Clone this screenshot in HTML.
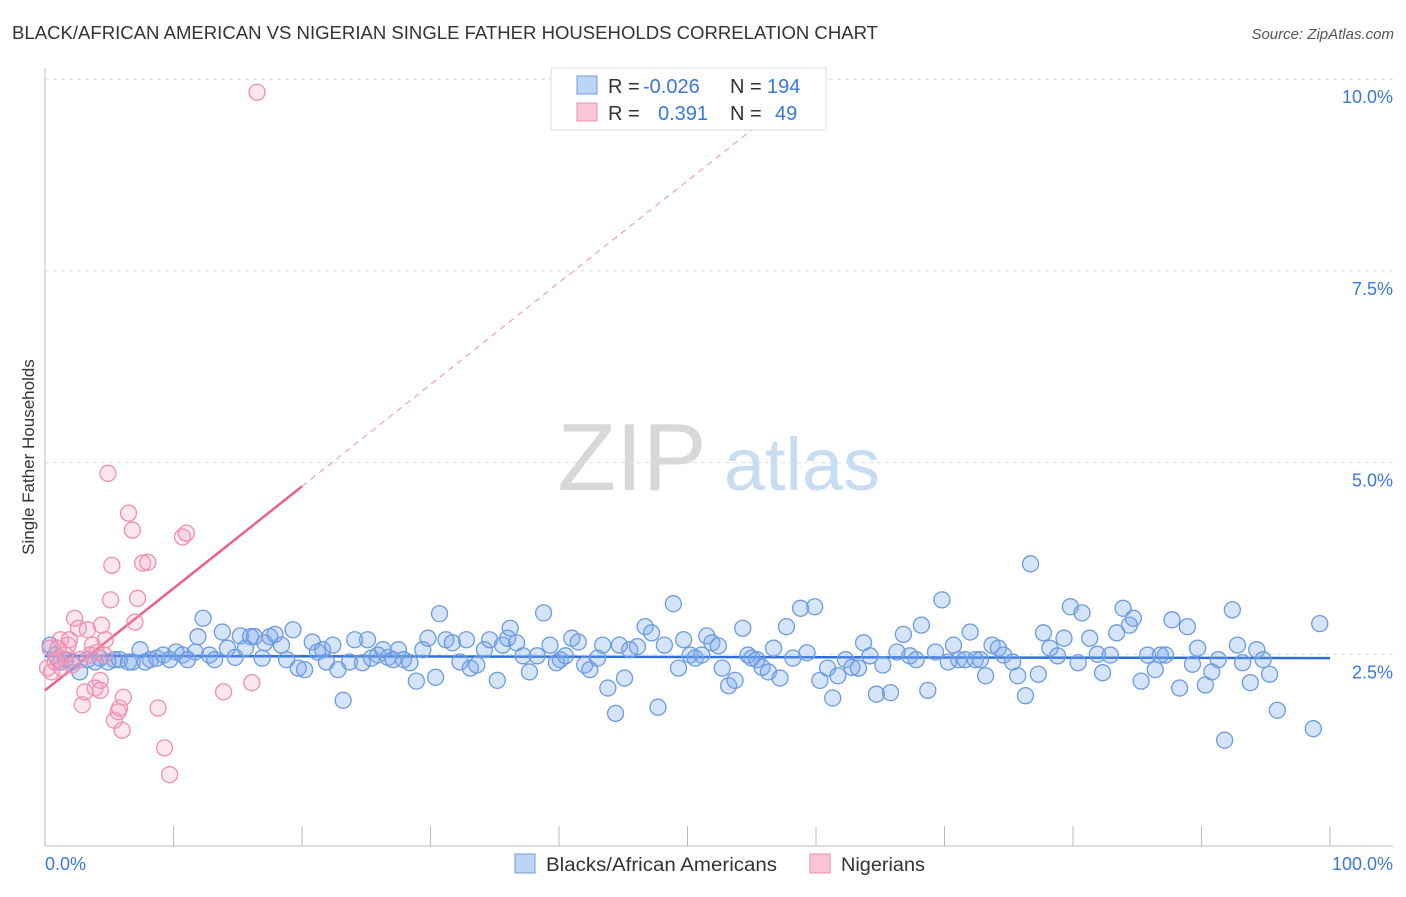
<!DOCTYPE html>
<html><head><meta charset="utf-8"><style>
body{margin:0;background:#fff;font-family:"Liberation Sans",sans-serif;}
svg text{font-family:"Liberation Sans",sans-serif;}
</style></head><body>
<svg id="chart" width="1406" height="892" xmlns="http://www.w3.org/2000/svg">
<text x="12" y="39" font-size="18" fill="#333" textLength="866" lengthAdjust="spacingAndGlyphs">BLACK/AFRICAN AMERICAN VS NIGERIAN SINGLE FATHER HOUSEHOLDS CORRELATION CHART</text>
<text x="1394" y="39" font-size="15" fill="#555" text-anchor="end" font-style="italic">Source: ZipAtlas.com</text>
<text transform="translate(34,457) rotate(-90)" font-size="17" fill="#333" text-anchor="middle">Single Father Households</text>
<g>
<text x="632" y="490" font-size="96" fill="#d8d8d8" font-family="Liberation Serif" text-anchor="middle">ZIP</text>
<text x="802" y="490" font-size="74" fill="#c8dcf2" text-anchor="middle">atlas</text>
</g>
<g id="grid"></g><g id="axes"></g><g id="trend"></g><g id="pts"></g>
<g>
<rect x="551" y="68" width="275" height="62" fill="#fff" stroke="#ddd"/>
<rect x="577" y="76" width="20" height="18" fill="#bcd4f5" stroke="#6c9be0"/>
<rect x="577" y="103" width="20" height="18" fill="#f9c6d6" stroke="#ef8fb0"/>
<text x="608" y="93" font-size="20" fill="#333">R = </text><text x="643" y="93" font-size="20" fill="#3a78d8">-0.026</text>
<text x="730" y="93" font-size="20" fill="#333">N = </text><text x="767" y="93" font-size="20" fill="#3a78d8">194</text>
<text x="608" y="120" font-size="20" fill="#333">R = </text><text x="658" y="120" font-size="20" fill="#3a78d8">0.391</text>
<text x="730" y="120" font-size="20" fill="#333">N = </text><text x="775" y="120" font-size="20" fill="#3a78d8">49</text>
</g>
<g>
<rect x="515" y="854" width="20" height="19" fill="#bcd4f5" stroke="#6c9be0"/>
<text x="546" y="871" font-size="19" fill="#333" textLength="231" lengthAdjust="spacingAndGlyphs">Blacks/African Americans</text>
<rect x="810" y="854" width="20" height="19" fill="#f9c6d6" stroke="#ef8fb0"/>
<text x="841" y="871" font-size="19" fill="#333" textLength="84" lengthAdjust="spacingAndGlyphs">Nigerians</text>
</g>
</svg>
<script>
const yTicks=[2.5,5,7.5,10];
const yTickLabels=["2.5%","5.0%","7.5%","10.0%"];
const xTicks=[0,10,20,30,40,50,60,70,80,90,100];
const xEndLabels=["0.0%","100.0%"];
const blueX=[0.4,0.8,1.2,1.6,2.1,2.7,3.3,3.9,4.3,4.9,5.4,5.8,6.5,6.8,7.4,7.8,8.2,8.7,9.2,9.7,10.2,10.7,11.1,11.7,11.9,12.3,12.8,13.2,13.8,14.2,14.8,15.2,15.6,16.0,16.3,16.9,17.1,17.5,17.9,18.4,18.8,19.3,19.7,20.2,20.8,21.2,21.6,21.9,22.4,22.8,23.2,23.7,24.1,24.7,25.1,25.4,25.9,26.3,26.7,27.1,27.5,27.9,28.4,28.9,29.4,29.8,30.4,30.7,31.2,31.7,32.3,32.8,33.1,33.6,34.2,34.6,35.2,35.6,36.0,36.2,36.7,37.2,37.7,38.3,38.8,39.3,39.8,40.1,40.5,41.0,41.5,42.0,42.4,43.0,43.4,43.8,44.4,44.7,45.1,45.5,46.1,46.7,47.2,47.7,48.2,48.9,49.3,49.7,50.2,50.6,51.1,51.5,51.9,52.4,52.7,53.2,53.7,54.3,54.7,55.0,55.4,55.8,56.3,56.7,57.2,57.7,58.2,58.8,59.3,59.9,60.3,60.9,61.3,61.7,62.3,62.8,63.3,63.7,64.2,64.7,65.2,65.8,66.3,66.8,67.3,67.8,68.2,68.7,69.3,69.8,70.3,70.7,71.1,71.6,72.0,72.4,72.8,73.2,73.7,74.2,74.6,75.3,75.7,76.3,76.7,77.3,77.7,78.2,78.8,79.3,79.8,80.4,80.7,81.3,81.9,82.3,82.9,83.4,83.9,84.4,84.7,85.3,85.8,86.4,86.8,87.2,87.7,88.3,88.9,89.3,89.7,90.3,90.8,91.3,91.8,92.4,92.8,93.2,93.8,94.3,94.8,95.3,95.9,98.7,99.2];
const blueY=[2.62,2.49,2.40,2.43,2.40,2.27,2.43,2.40,2.45,2.40,2.43,2.43,2.40,2.40,2.56,2.40,2.43,2.45,2.49,2.43,2.53,2.49,2.43,2.53,2.73,2.97,2.49,2.43,2.79,2.58,2.46,2.74,2.58,2.73,2.73,2.45,2.65,2.73,2.76,2.62,2.43,2.82,2.32,2.30,2.66,2.53,2.56,2.40,2.62,2.30,1.90,2.40,2.69,2.39,2.69,2.45,2.49,2.56,2.46,2.43,2.56,2.43,2.39,2.15,2.56,2.71,2.20,3.03,2.69,2.65,2.40,2.69,2.32,2.36,2.56,2.69,2.16,2.62,2.71,2.84,2.65,2.48,2.27,2.48,3.04,2.62,2.39,2.43,2.48,2.71,2.66,2.36,2.30,2.45,2.62,2.06,1.73,2.62,2.19,2.56,2.60,2.86,2.78,1.81,2.62,3.16,2.32,2.69,2.49,2.45,2.49,2.74,2.65,2.61,2.32,2.09,2.16,2.84,2.49,2.45,2.43,2.33,2.27,2.58,2.19,2.86,2.45,3.10,2.52,3.12,2.16,2.32,1.93,2.22,2.43,2.33,2.32,2.65,2.48,1.98,2.36,2.00,2.53,2.76,2.48,2.43,2.88,2.03,2.53,3.21,2.40,2.62,2.43,2.43,2.79,2.43,2.43,2.22,2.62,2.58,2.49,2.40,2.22,1.96,3.68,2.24,2.78,2.58,2.48,2.71,3.12,2.39,3.04,2.71,2.50,2.26,2.49,2.78,3.10,2.88,2.97,2.15,2.49,2.30,2.49,2.49,2.95,2.06,2.86,2.37,2.58,2.10,2.27,2.43,1.38,3.08,2.62,2.39,2.13,2.56,2.43,2.24,1.77,1.53,2.90];
const pinkX=[0.2,0.4,0.5,0.8,1.0,1.2,1.3,1.6,1.8,1.9,2.1,2.3,2.6,2.7,2.9,3.1,3.3,3.5,3.7,3.9,4.0,4.3,4.3,4.4,4.6,4.7,4.9,5.1,5.2,5.4,5.7,5.8,6.0,6.1,6.5,6.8,7.0,7.2,7.6,8.0,8.8,9.3,9.7,10.7,11.0,13.9,16.1,16.5,1.0];
const pinkY=[2.32,2.58,2.27,2.40,2.43,2.69,2.32,2.49,2.62,2.69,2.36,2.97,2.84,2.43,1.84,2.01,2.82,2.49,2.62,2.06,2.52,2.16,2.03,2.88,2.49,2.69,4.86,3.21,3.66,1.64,1.75,1.80,1.51,1.94,4.34,4.12,2.92,3.23,3.69,3.70,1.80,1.28,0.93,4.03,4.08,2.01,2.13,9.83,2.58];
const blueTrendX=[0,100], blueTrendY=[2.48,2.45];
const pinkSolidX=[0,20], pinkSolidY=[2.03,4.69];
const pinkDashX=[20,55], pinkDashY=[4.69,9.34];

const NS="http://www.w3.org/2000/svg";
const X0=45,X1=1330,Y0=846,YPER=76.68;
function sx(v){return X0+(X1-X0)*v/100;}
function sy(v){return Y0-v*YPER;}
function mk(tag,attrs,parent){const e=document.createElementNS(NS,tag);for(const k in attrs)e.setAttribute(k,attrs[k]);parent.appendChild(e);return e;}
const grid=document.getElementById('grid'),axes=document.getElementById('axes'),trend=document.getElementById('trend'),pts=document.getElementById('pts');
yTicks.forEach((t,i)=>{
 const l=mk('line',{x1:X0,x2:1393,y1:sy(t),y2:sy(t),stroke:'#ddd','stroke-dasharray':'4,4'},grid);
 
 
 const tx=mk('text',{x:1393,y:sy(t)+24,'font-size':18,fill:'#3a78d8','text-anchor':'end'},grid);
 tx.textContent=yTickLabels[i];
 
 
});
const ya=mk('line',{x1:X0,x2:X0,y1:68,y2:Y0,stroke:'#bbb'},axes);


const xa=mk('line',{x1:X0,x2:1393,y1:Y0,y2:Y0,stroke:'#bbb'},axes);


xTicks.forEach(t=>{
 const l=mk('line',{x1:sx(t),x2:sx(t),y1:Y0,y2:Y0-20,stroke:'#bbb'},axes);
 
 
});
const xl0=mk('text',{x:45,y:870,'font-size':18,fill:'#3a78d8'},axes);xl0.textContent=xEndLabels[0];


const xl1=mk('text',{x:1393,y:870,'font-size':18,fill:'#3a78d8','text-anchor':'end'},axes);xl1.textContent=xEndLabels[1];


blueX.forEach((x,i)=>{
 const c=mk('circle',{cx:sx(x),cy:sy(blueY[i]),r:8,fill:'rgba(120,165,235,0.3)',stroke:'#6c9be0','stroke-width':1.3},pts);
 
 
});
pinkX.forEach((x,i)=>{
 const c=mk('circle',{cx:sx(x),cy:sy(pinkY[i]),r:8,fill:'rgba(245,160,190,0.25)',stroke:'#ef8fb0','stroke-width':1.3},pts);
 
 
});
const bt=mk('line',{x1:sx(blueTrendX[0]),y1:sy(blueTrendY[0]),x2:sx(blueTrendX[1]),y2:sy(blueTrendY[1]),stroke:'#2f6fd6','stroke-width':2.5},trend);


const ps=mk('line',{x1:sx(pinkSolidX[0]),y1:sy(pinkSolidY[0]),x2:sx(pinkSolidX[1]),y2:sy(pinkSolidY[1]),stroke:'#e8608e','stroke-width':2.5},trend);


const pd=mk('line',{x1:sx(pinkDashX[0]),y1:sy(pinkDashY[0]),x2:sx(pinkDashX[1]),y2:sy(pinkDashY[1]),stroke:'#eea0bb','stroke-width':1.2,'stroke-dasharray':'6,5'},trend);


</script>
</body></html>
